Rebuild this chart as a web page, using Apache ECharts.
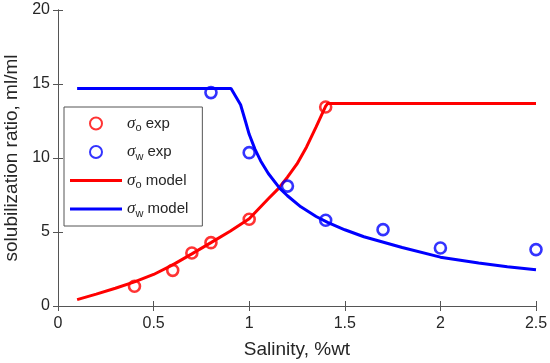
<!DOCTYPE html>
<html>
<head>
<meta charset="utf-8">
<script src="https://cdn.jsdelivr.net/npm/echarts@6/dist/echarts.min.js"></script>
<style>html,body{margin:0;padding:0;background:#fff;}#c{width:550px;height:363px;}</style>
</head>
<body>
<div id="c"></div>
<script>
// ---- data ----
const oExpX = [0.4, 0.6, 0.7, 0.8, 1.0, 1.4];
const oExpY = [1.33, 2.41, 3.58, 4.28, 5.86, 13.45];
const wExpX = [0.8, 1.0, 1.2, 1.4, 1.7, 2.0, 2.5];
const wExpY = [14.42, 10.36, 8.1, 5.79, 5.16, 3.92, 3.81];
const oModelX = [0.1, 0.2, 0.3, 0.4, 0.5, 0.6, 0.7, 0.8, 0.9, 1.0, 1.1, 1.15, 1.2, 1.25, 1.3, 1.35, 1.4, 1.41, 2.5];
const oModelY = [0.43, 0.8, 1.2, 1.63, 2.13, 2.78, 3.52, 4.28, 5.05, 5.9, 7.25, 7.9, 8.7, 9.6, 10.75, 12.1, 13.5, 13.68, 13.68];
const wModelX = [0.1, 0.905, 0.955, 0.98, 1.0, 1.03, 1.06, 1.1, 1.16, 1.2, 1.27, 1.35, 1.41, 1.5, 1.6, 1.8, 2.0, 2.2, 2.35, 2.5];
const wModelY = [14.7, 14.7, 13.6, 12.5, 11.6, 10.6, 9.8, 8.95, 7.95, 7.45, 6.7, 6.05, 5.65, 5.15, 4.68, 3.95, 3.3, 2.9, 2.65, 2.45];
const xRange = [0, 2.5, 0.5];
const yRange = [0, 20, 5];
const seriesNames = ['σo exp', 'σw exp', 'σo model', 'σw model'];

const pairs = (xs, ys) => xs.map((x, i) => [x, ys[i]]);
const RED = '#ff0000', BLUE = '#0000ff', AX = '#555555', TXT = '#262626';
const FONT = 'Liberation Sans, Arial, sans-serif';
const LINE_ICON = 'path://M0,0L52,0L52,3L0,3Z';

const chart = echarts.init(document.getElementById('c'));
const baseX = {
  type: 'value', min: xRange[0], max: xRange[1], interval: xRange[2],
  axisLine: {show: true, lineStyle: {color: AX, width: 1}},
  axisTick: {show: true, inside: true, length: 5, lineStyle: {color: AX}},
  splitLine: {show: false}
};
const baseY = {
  type: 'value', min: yRange[0], max: yRange[1], interval: yRange[2],
  axisLine: {show: true, lineStyle: {color: AX, width: 1}},
  axisTick: {show: true, inside: true, length: 5, lineStyle: {color: AX}},
  splitLine: {show: false}
};
chart.setOption({
  animation: false,
  backgroundColor: '#fff',
  grid: {left: 58, right: 14, top: 10, bottom: 57, containLabel: false, outerBoundsMode: 'none'},
  xAxis: [
    Object.assign({}, baseX, {
      position: 'bottom',
      name: 'Salinity, %wt', nameLocation: 'middle', nameGap: 34,
      nameTextStyle: {fontSize: 19, color: TXT, fontFamily: FONT},
      axisLabel: {fontSize: 16, color: TXT, fontFamily: FONT, margin: 10}
    }),
    Object.assign({}, baseX, {position: 'top', axisLabel: {show: false}})
  ],
  yAxis: [
    Object.assign({}, baseY, {
      position: 'left',
      name: 'solubilization ratio, ml/ml', nameLocation: 'middle', nameGap: 32,
      nameTextStyle: {fontSize: 19, color: TXT, fontFamily: FONT},
      axisLabel: {fontSize: 16, color: TXT, fontFamily: FONT, margin: 8}
    }),
    Object.assign({}, baseY, {position: 'right', axisLabel: {show: false}})
  ],
  legend: {
    orient: 'vertical', left: 64, top: 107,
    padding: [8, 14, 7, 6],
    itemWidth: 52, itemHeight: 12, itemGap: 10, itemTextGap: 5,
    borderColor: AX, borderWidth: 1, backgroundColor: '#fff',
    data: [
      {name: seriesNames[0]},
      {name: seriesNames[1]},
      {name: seriesNames[2], icon: LINE_ICON, itemStyle: {color: RED, borderWidth: 0}},
      {name: seriesNames[3], icon: LINE_ICON, itemStyle: {color: BLUE, borderWidth: 0}}
    ],
    formatter: function (name) {
      return '{sig|' + name[0] + '}{sub|' + name[1] + '}{t|' + name.slice(2) + '}';
    },
    textStyle: {
      color: TXT, fontFamily: FONT, fontSize: 15,
      rich: {
        sig: {fontFamily: 'Liberation Serif, serif', fontStyle: 'italic', fontSize: 17, lineHeight: 20, color: TXT},
        sub: {fontFamily: FONT, fontSize: 11, lineHeight: 8, verticalAlign: 'bottom', color: TXT},
        t: {fontFamily: FONT, fontSize: 15, lineHeight: 20, color: TXT}
      }
    }
  },
  series: [
    {
      name: seriesNames[0], type: 'scatter', data: pairs(oExpX, oExpY),
      symbol: 'circle', symbolSize: 11,
      itemStyle: {color: 'rgba(255,255,255,0)', borderColor: RED, borderWidth: 2.6}, z: 3
    },
    {
      name: seriesNames[1], type: 'scatter', data: pairs(wExpX, wExpY),
      symbol: 'circle', symbolSize: 11,
      itemStyle: {color: 'rgba(255,255,255,0)', borderColor: BLUE, borderWidth: 2.6}, z: 3
    },
    {
      name: seriesNames[2], type: 'line', data: pairs(oModelX, oModelY),
      showSymbol: false, symbol: 'none', color: RED,
      lineStyle: {color: RED, width: 3}, z: 2
    },
    {
      name: seriesNames[3], type: 'line', data: pairs(wModelX, wModelY),
      showSymbol: false, symbol: 'none', color: BLUE,
      lineStyle: {color: BLUE, width: 3}, z: 2
    }
  ]
});
</script>
</body>
</html>
